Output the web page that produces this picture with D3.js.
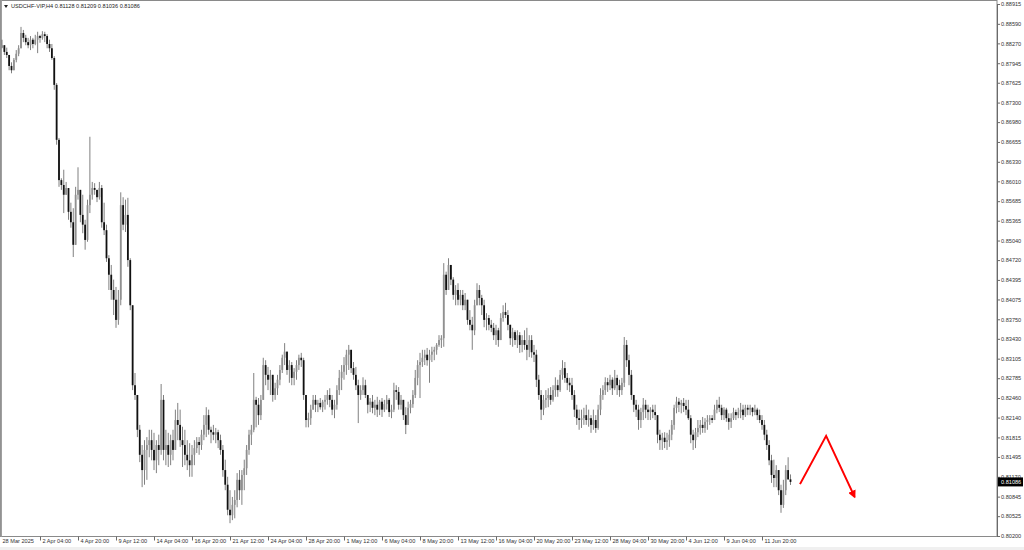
<!DOCTYPE html>
<html><head><meta charset="utf-8">
<script src="https://cdn.jsdelivr.net/npm/d3@7"></script>
<style>html,body{margin:0;padding:0;background:#fff;overflow:hidden}svg{display:block}</style>
</head><body><svg id="c" width="1024" height="550"></svg>
<script>
const symbolName = "USDCHF-VIP,H4";
const lastOHLC = [0.81128, 0.81209, 0.81036, 0.81086];
const firstOpen = 0.8820;
const closes = [
0.8824,0.8813,0.8808,0.8790,0.8783,0.8800,0.8810,0.8819,0.8844,0.8836,
0.8829,0.8824,0.8833,0.8826,0.8833,0.8839,0.8836,0.8842,0.8839,0.8826,
0.8819,0.8803,0.8759,0.8669,0.8603,0.8595,0.8579,0.8590,0.8551,0.8534,
0.8497,0.8579,0.8587,0.8546,0.8530,0.8505,0.8562,0.8579,0.8590,0.8587,
0.8575,0.8590,0.8534,0.8521,0.8475,0.8448,0.8423,0.8407,0.8374,0.8407,
0.8562,0.8530,0.8546,0.8472,0.8398,0.8267,0.8251,0.8194,0.8153,0.8128,
0.8161,0.8169,0.8177,0.8161,0.8144,0.8169,0.8161,0.8243,0.8161,0.8169,
0.8153,0.8177,0.8161,0.8210,0.8202,0.8177,0.8169,0.8153,0.8144,0.8136,
0.8153,0.8164,0.8174,0.8169,0.8186,0.8202,0.8218,0.8194,0.8190,0.8186,
0.8190,0.8177,0.8161,0.8128,0.8104,0.8063,0.8054,0.8071,0.8079,0.8112,
0.8095,0.8120,0.8131,0.8161,0.8186,0.8194,0.8243,0.8235,0.8218,0.8243,
0.8300,0.8284,0.8276,0.8284,0.8251,0.8262,0.8276,0.8292,0.8312,0.8322,
0.8292,0.8300,0.8279,0.8289,0.8300,0.8312,0.8308,0.8251,0.8210,0.8213,
0.8227,0.8243,0.8235,0.8238,0.8231,0.8240,0.8243,0.8251,0.8243,0.8227,
0.8235,0.8259,0.8279,0.8289,0.8300,0.8317,0.8325,0.8295,0.8284,0.8267,
0.8251,0.8259,0.8267,0.8251,0.8235,0.8240,0.8230,0.8235,0.8227,0.8240,
0.8227,0.8236,0.8243,0.8223,0.8227,0.8259,0.8256,0.8235,0.8243,0.8218,
0.8202,0.8230,0.8236,0.8251,0.8279,0.8300,0.8305,0.8312,0.8317,0.8308,
0.8317,0.8322,0.8325,0.8333,0.8341,0.8344,0.8448,0.8423,0.8464,0.8440,
0.8415,0.8423,0.8407,0.8415,0.8398,0.8407,0.8374,0.8366,0.8357,0.8398,
0.8423,0.8410,0.8398,0.8374,0.8377,0.8366,0.8361,0.8349,0.8357,0.8341,
0.8377,0.8387,0.8382,0.8366,0.8344,0.8354,0.8341,0.8349,0.8333,0.8341,
0.8333,0.8325,0.8341,0.8321,0.8317,0.8276,0.8251,0.8227,0.8243,0.8246,
0.8251,0.8243,0.8259,0.8267,0.8259,0.8284,0.8295,0.8279,0.8271,0.8267,
0.8251,0.8227,0.8213,0.8210,0.8213,0.8218,0.8210,0.8213,0.8202,0.8210,
0.8197,0.8227,0.8251,0.8259,0.8272,0.8267,0.8276,0.8262,0.8279,0.8267,
0.8259,0.8271,0.8333,0.8308,0.8284,0.8251,0.8235,0.8227,0.8210,0.8223,
0.8235,0.8227,0.8223,0.8227,0.8223,0.8218,0.8186,0.8177,0.8181,0.8174,
0.8177,0.8186,0.8202,0.8230,0.8240,0.8235,0.8238,0.8233,0.8227,0.8213,
0.8186,0.8177,0.8190,0.8197,0.8202,0.8197,0.8207,0.8210,0.8213,0.8210,
0.8227,0.8235,0.8230,0.8218,0.8227,0.8213,0.8207,0.8213,0.8223,0.8218,
0.8223,0.8227,0.8218,0.8230,0.8227,0.8230,0.8223,0.8227,0.8218,0.8210,
0.8202,0.8186,0.8169,0.8144,0.8120,0.8115,0.8128,0.8095,0.8071,0.8095,
0.8128,0.81128,0.81086];
const highs = [
0.8833,0.8824,0.8820,0.8808,0.8796,0.8803,0.8816,0.8824,0.8854,0.8849,
0.8841,0.8836,0.8839,0.8836,0.8841,0.8846,0.8841,0.8847,0.8846,0.8842,
0.8833,0.8826,0.8806,0.8762,0.8672,0.8606,0.8620,0.8600,0.8579,0.8566,
0.8557,0.8592,0.8624,0.8587,0.8579,0.8538,0.8571,0.8674,0.8600,0.8598,
0.8587,0.8600,0.8595,0.8566,0.8530,0.8480,0.8464,0.8440,0.8428,0.8423,
0.8583,0.8575,0.8571,0.8574,0.8475,0.8398,0.8287,0.8251,0.8202,0.8169,
0.8177,0.8182,0.8194,0.8194,0.8189,0.8177,0.8186,0.8269,0.8251,0.8194,
0.8189,0.8186,0.8194,0.8227,0.8238,0.8227,0.8199,0.8194,0.8177,0.8172,
0.8169,0.8177,0.8182,0.8182,0.8194,0.8218,0.8231,0.8227,0.8199,0.8202,
0.8197,0.8194,0.8186,0.8169,0.8145,0.8117,0.8095,0.8084,0.8095,0.8123,
0.8128,0.8128,0.8145,0.8169,0.8194,0.8202,0.8287,0.8248,0.8246,0.8251,
0.8312,0.8308,0.8297,0.8292,0.8276,0.8271,0.8284,0.8300,0.8317,0.8336,
0.8322,0.8308,0.8305,0.8295,0.8308,0.8317,0.8320,0.8312,0.8251,0.8222,
0.8235,0.8251,0.8251,0.8243,0.8246,0.8243,0.8251,0.8259,0.8262,0.8251,
0.8243,0.8267,0.8292,0.8300,0.8313,0.8325,0.8333,0.8325,0.8305,0.8297,
0.8276,0.8267,0.8280,0.8276,0.8251,0.8246,0.8251,0.8243,0.8248,0.8243,
0.8246,0.8243,0.8251,0.8246,0.8235,0.8271,0.8267,0.8264,0.8251,0.8243,
0.8231,0.8240,0.8243,0.8259,0.8292,0.8308,0.8320,0.8325,0.8325,0.8328,
0.8325,0.8330,0.8330,0.8336,0.8349,0.8349,0.8467,0.8453,0.8475,0.8464,
0.8444,0.8431,0.8434,0.8423,0.8423,0.8418,0.8407,0.8390,0.8379,0.8407,
0.8434,0.8431,0.8415,0.8407,0.8385,0.8382,0.8374,0.8369,0.8366,0.8361,
0.8385,0.8398,0.8402,0.8390,0.8366,0.8361,0.8357,0.8357,0.8354,0.8349,
0.8357,0.8361,0.8349,0.8349,0.8333,0.8325,0.8284,0.8259,0.8251,0.8259,
0.8262,0.8264,0.8267,0.8280,0.8276,0.8292,0.8308,0.8305,0.8287,0.8279,
0.8279,0.8259,0.8235,0.8227,0.8227,0.8230,0.8235,0.8227,0.8218,0.8227,
0.8218,0.8235,0.8262,0.8267,0.8280,0.8279,0.8284,0.8280,0.8292,0.8284,
0.8276,0.8279,0.8346,0.8341,0.8317,0.8292,0.8251,0.8243,0.8235,0.8230,
0.8246,0.8243,0.8235,0.8231,0.8235,0.8235,0.8218,0.8194,0.8189,0.8190,
0.8189,0.8194,0.8210,0.8235,0.8248,0.8246,0.8243,0.8246,0.8243,0.8243,
0.8218,0.8194,0.8197,0.8210,0.8210,0.8215,0.8213,0.8218,0.8218,0.8218,
0.8235,0.8243,0.8248,0.8235,0.8231,0.8230,0.8221,0.8221,0.8230,0.8227,
0.8230,0.8238,0.8235,0.8235,0.8235,0.8235,0.8231,0.8235,0.8230,0.8227,
0.8218,0.8210,0.8194,0.8177,0.8153,0.8145,0.8136,0.8128,0.8104,0.8112,
0.8136,0.8149,0.81209];
const lows = [
0.8819,0.8808,0.8803,0.8783,0.8778,0.8783,0.8796,0.8806,0.8819,0.8829,
0.8824,0.8819,0.8816,0.8819,0.8824,0.8811,0.8828,0.8833,0.8829,0.8819,
0.8813,0.8800,0.8751,0.8661,0.8592,0.8587,0.8549,0.8579,0.8538,0.8525,
0.8477,0.8497,0.8571,0.8534,0.8516,0.8489,0.8502,0.8549,0.8571,0.8579,
0.8567,0.8571,0.8525,0.8513,0.8469,0.8423,0.8407,0.8382,0.8361,0.8366,
0.8398,0.8521,0.8518,0.8461,0.8390,0.8259,0.8243,0.8182,0.8141,0.8100,
0.8104,0.8112,0.8149,0.8144,0.8128,0.8123,0.8136,0.8153,0.8144,0.8136,
0.8133,0.8136,0.8144,0.8161,0.8177,0.8166,0.8133,0.8136,0.8128,0.8117,
0.8117,0.8136,0.8156,0.8153,0.8161,0.8177,0.8182,0.8186,0.8172,0.8177,
0.8172,0.8164,0.8153,0.8117,0.8095,0.8054,0.8041,0.8046,0.8049,0.8067,
0.8079,0.8071,0.8095,0.8120,0.8153,0.8169,0.8190,0.8198,0.8202,0.8210,
0.8243,0.8267,0.8259,0.8251,0.8240,0.8243,0.8251,0.8267,0.8287,0.8300,
0.8284,0.8271,0.8267,0.8267,0.8276,0.8292,0.8297,0.8243,0.8198,0.8198,
0.8202,0.8227,0.8223,0.8223,0.8227,0.8223,0.8227,0.8235,0.8231,0.8218,
0.8213,0.8227,0.8251,0.8259,0.8276,0.8284,0.8292,0.8287,0.8276,0.8259,
0.8205,0.8243,0.8251,0.8246,0.8221,0.8223,0.8221,0.8218,0.8215,0.8218,
0.8215,0.8223,0.8227,0.8215,0.8213,0.8223,0.8243,0.8227,0.8227,0.8210,
0.8187,0.8210,0.8221,0.8230,0.8246,0.8267,0.8246,0.8297,0.8300,0.8299,
0.8271,0.8305,0.8308,0.8317,0.8330,0.8328,0.8330,0.8415,0.8423,0.8431,
0.8407,0.8398,0.8398,0.8398,0.8390,0.8390,0.8366,0.8357,0.8325,0.8349,
0.8398,0.8398,0.8382,0.8362,0.8357,0.8357,0.8354,0.8341,0.8333,0.8330,
0.8341,0.8371,0.8377,0.8357,0.8333,0.8330,0.8333,0.8328,0.8320,0.8321,
0.8325,0.8308,0.8313,0.8312,0.8305,0.8264,0.8243,0.8210,0.8218,0.8230,
0.8231,0.8235,0.8240,0.8248,0.8248,0.8256,0.8276,0.8271,0.8259,0.8256,
0.8243,0.8215,0.8202,0.8194,0.8197,0.8202,0.8202,0.8199,0.8189,0.8194,
0.8189,0.8194,0.8218,0.8243,0.8251,0.8256,0.8259,0.8251,0.8259,0.8251,
0.8248,0.8251,0.8264,0.8297,0.8267,0.8243,0.8223,0.8215,0.8194,0.8197,
0.8210,0.8213,0.8210,0.8210,0.8213,0.8210,0.8172,0.8161,0.8161,0.8164,
0.8161,0.8166,0.8177,0.8194,0.8221,0.8223,0.8221,0.8223,0.8218,0.8210,
0.8172,0.8161,0.8164,0.8182,0.8186,0.8189,0.8189,0.8194,0.8202,0.8205,
0.8210,0.8221,0.8223,0.8210,0.8210,0.8207,0.8194,0.8197,0.8210,0.8210,
0.8213,0.8213,0.8210,0.8215,0.8218,0.8218,0.8216,0.8218,0.8210,0.8205,
0.8194,0.8177,0.8161,0.8136,0.8107,0.8100,0.8100,0.8087,0.8058,0.8066,
0.8087,0.8112,0.81036];
const timeLabels = ["28 Mar 2025","2 Apr 04:00","4 Apr 20:00","9 Apr 12:00","14 Apr 04:00","16 Apr 20:00","21 Apr 12:00","24 Apr 04:00","28 Apr 20:00","1 May 12:00","6 May 04:00","8 May 20:00","13 May 12:00","16 May 04:00","20 May 20:00","23 May 12:00","28 May 04:00","30 May 20:00","4 Jun 12:00","9 Jun 04:00","11 Jun 20:00"];
const barsPerLabel = 16;
const priceTicks = [0.88915,0.88590,0.88270,0.87945,0.87625,0.87300,0.86980,0.86655,0.86330,0.86010,0.85685,0.85365,0.85040,0.84720,0.84395,0.84075,0.83750,0.83430,0.83105,0.82785,0.82460,0.82140,0.81815,0.81495,0.81170,0.80845,0.80525,0.80200];
const arrowPath = [[336,0.8105],[347,0.8184],[359,0.8084]];

const bars = closes.map((c,i)=>{
  const o = i===0 ? firstOpen : closes[i-1];
  return {i, o, c, h: Math.max(highs[i], o, c), l: Math.min(lows[i], o, c)};
});

const svg = d3.select("#c");
const FONT = "'Liberation Sans', Arial, sans-serif";
const y = d3.scaleLinear().domain([0.80200, 0.88915]).range([536, 4]);
const x = d3.scaleLinear().domain([0, closes.length - 1]).range([2, 790.5]);

svg.append("rect").attr("x",0).attr("y",0).attr("width",1024).attr("height",550).attr("fill","#fff");
svg.append("rect").attr("x",0).attr("y",547).attr("width",1024).attr("height",3).attr("fill","#f0f0f0");

// frame
svg.append("rect").attr("x",0.5).attr("y",0.5).attr("width",996.5).attr("height",536)
  .attr("fill","none").attr("stroke","#8a8a8a").attr("stroke-width",1);
svg.append("line").attr("x1",1.2).attr("x2",1.2).attr("y1",0).attr("y2",537).attr("stroke","#9a9a9a").attr("stroke-width",1.5);

// candles
const g = svg.append("g");
g.selectAll("line.w").data(bars).join("line").attr("class","w")
  .attr("x1",d=>x(d.i)).attr("x2",d=>x(d.i))
  .attr("y1",d=>y(d.h)).attr("y2",d=>y(d.l))
  .attr("stroke","#606060").attr("stroke-width",0.8);
g.selectAll("rect.b").data(bars).join("rect").attr("class","b")
  .attr("x",d=>x(d.i)-0.9).attr("width",1.8)
  .attr("y",d=>y(Math.max(d.o,d.c)))
  .attr("height",d=>Math.max(0.6, Math.abs(y(d.o)-y(d.c))))
  .attr("fill",d=>d.c < d.o ? "#111" : "#909090");

// price axis
const ya = svg.append("g").attr("transform","translate(997,0)")
  .call(d3.axisRight(y).tickValues(priceTicks).tickFormat(d=>d.toFixed(5)).tickSize(3).tickSizeOuter(0));
ya.select(".domain").attr("stroke","#6a6a6a");
ya.selectAll(".tick line").attr("stroke","#6a6a6a");
ya.selectAll(".tick text").attr("x",4).attr("font-family",FONT).attr("font-size",5.6).attr("fill","#333");

// time axis
const tickIdx = timeLabels.map((t,k)=>k*barsPerLabel);
const xa = svg.append("g").attr("transform","translate(0,536.5)")
  .call(d3.axisBottom(x).tickValues(tickIdx).tickFormat((d,k)=>timeLabels[k]).tickSize(4).tickSizeOuter(0));
xa.select(".domain").remove();
xa.selectAll(".tick line").attr("stroke","#6a6a6a").attr("opacity",(d,k)=>k===0?0:1);
xa.selectAll(".tick text").attr("text-anchor","start").attr("x",(d,k)=>k===0?0:2).attr("y",3)
  .attr("font-family",FONT).attr("font-size",5.6).attr("fill","#333");

// current price label
const lastC = lastOHLC[3];
svg.append("rect").attr("x",998).attr("y",y(lastC)-4.5).attr("width",25).attr("height",9).attr("fill","#000");
svg.append("text").attr("x",1001).attr("y",y(lastC)).attr("dy","0.35em")
  .attr("font-family",FONT).attr("font-size",5.6).attr("fill","#fff").text(lastC.toFixed(5));

// title
svg.append("path").attr("d","M4,5 L8,5 L6,8 Z").attr("fill","#222");
svg.append("text").attr("x",11).attr("y",8.2).attr("font-family",FONT).attr("font-size",5.6).attr("fill","#222")
  .text(symbolName + "  " + lastOHLC.map(v=>v.toFixed(5)).join(" "));

// red arrow
const defs = svg.append("defs");
defs.append("marker").attr("id","ah").attr("viewBox","0 0 10 10").attr("refX",8).attr("refY",5)
  .attr("markerWidth",4).attr("markerHeight",4).attr("orient","auto")
  .append("path").attr("d","M0,0 L10,5 L0,10 Z").attr("fill","#ff0000");
svg.append("path").datum(arrowPath)
  .attr("d", d3.line().x(d=>x(d[0])).y(d=>y(d[1])))
  .attr("fill","none").attr("stroke","#ff0000").attr("stroke-width",2)
  .attr("marker-end","url(#ah)");
</script></body></html>
